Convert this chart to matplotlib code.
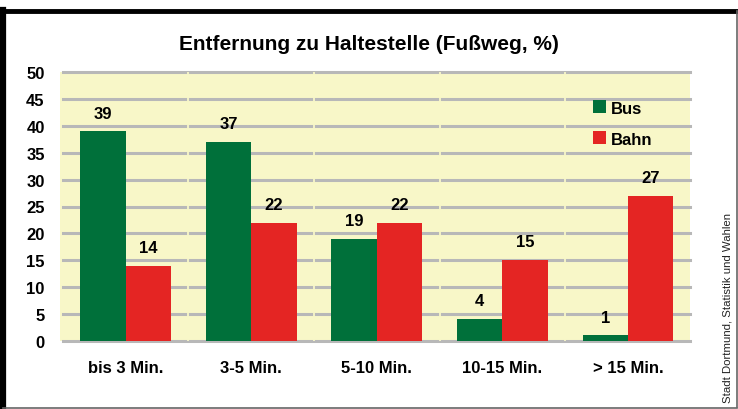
import matplotlib
matplotlib.use("Agg")
import matplotlib.pyplot as plt
from matplotlib.patches import Rectangle
import numpy as np

categories = ["bis 3 Min.", "3-5 Min.", "5-10 Min.", "10-15 Min.", "> 15 Min."]
bus = [39, 37, 19, 4, 1]
bahn = [14, 22, 22, 15, 27]
yticks = [0, 5, 10, 15, 20, 25, 30, 35, 40, 45, 50]
title = "Entfernung zu Haltestelle (Fußweg, %)"
source = "Stadt Dortmund, Statistik und Wahlen"

GREEN = "#00703A"
RED = "#E42523"
YELLOW = "#F8F7C8"
GRID = "#B8B8B8"

FONT = ["Liberation Sans Narrow", "Liberation Sans", "DejaVu Sans"]
plt.rcParams["font.family"] = FONT

fig = plt.figure(figsize=(7.38, 4.10), dpi=100)
fig.patch.set_facecolor("white")

W, H = 738, 410
def fx(px): return px / W
def fy(py): return 1 - py / H
fig.add_artist(plt.Line2D([fx(3), fx(3)], [fy(408), fy(11)], color="black", lw=4.5, transform=fig.transFigure))
fig.add_artist(plt.Line2D([fx(1), fx(737)], [fy(12), fy(12)], color="black", lw=3.5, transform=fig.transFigure))
fig.add_artist(plt.Line2D([fx(736.5), fx(736.5)], [fy(12), fy(408)], color="#666666", lw=1.2, transform=fig.transFigure))
fig.add_artist(plt.Line2D([fx(3), fx(737)], [fy(408.5), fy(408.5)], color="#666666", lw=1.2, transform=fig.transFigure))

left, right, top, bottom = 60, 690, 73.3, 341.7
ax = fig.add_axes([fx(left), fy(bottom), fx(right) - fx(left), fy(top) - fy(bottom)])
ax.set_facecolor(YELLOW)

x = np.arange(len(categories))
w = 0.362
ax.set_xlim(-0.523, 4.494)
ax.set_ylim(0, 50)

for yv in yticks:
    ax.axhline(yv, color=GRID, lw=2.2, zorder=1, xmin=0.004, xmax=1.0, clip_on=False)
for b in x[:-1] + 0.5:
    ax.axvline(b, color=YELLOW, lw=1.3, zorder=1.5)

ax.bar(x - w / 2, bus, width=w, color=GREEN, zorder=2, label="Bus")
ax.bar(x + w / 2, bahn, width=w, color=RED, zorder=2, label="Bahn")

for i in range(len(categories)):
    ax.text(x[i] - w / 2, bus[i] + 2.0, str(bus[i]), ha="center", va="bottom",
            fontsize=12, fontweight="bold", zorder=3)
    ax.text(x[i] + w / 2, bahn[i] + 2.0, str(bahn[i]), ha="center", va="bottom",
            fontsize=12, fontweight="bold", zorder=3)

for s in ax.spines.values():
    s.set_visible(False)
ax.set_yticks(yticks)
ax.set_yticklabels([str(v) for v in yticks], fontsize=12, fontweight="bold")
ax.set_xticks(x)
ax.set_xticklabels(categories, fontsize=12, fontweight="bold")
ax.tick_params(axis="both", length=0)
ax.tick_params(axis="y", pad=11)
ax.tick_params(axis="x", pad=14)

leg = ax.legend(loc="upper left", bbox_to_anchor=(0.835, 0.92), frameon=False,
                prop={"weight": "bold", "size": 12, "family": FONT},
                handlelength=0.8, handleheight=0.8, handletextpad=0.3,
                labelspacing=0.95, borderaxespad=0)

fig.text(0.5, fy(44), title, ha="center", va="center", fontsize=15, fontweight="bold")
fig.text(fx(727), fy(403), source, rotation=90, ha="center", va="bottom",
         fontsize=8.2, family=["Liberation Sans", "DejaVu Sans"], color="#222222")

fig.savefig("out.png", dpi=100, facecolor="white")
